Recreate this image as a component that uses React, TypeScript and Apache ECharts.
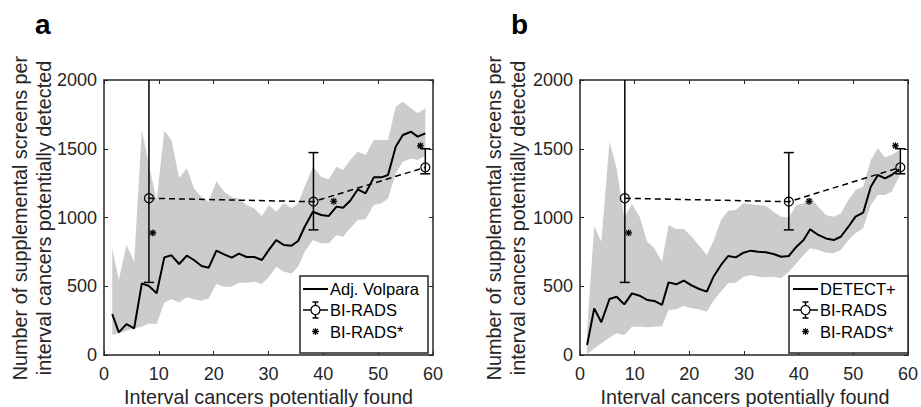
import React, { useEffect, useRef } from 'react';
import * as echarts from 'echarts';

const FONT = '"Liberation Sans", Arial, Helvetica, sans-serif';
const AX = '#262626';
const BAND = '#cccccc';

// Panel a: Adj. Volpara
const xA = [1.5, 2.7, 4.1, 5.5, 6.9, 8.2, 9.6, 11.0, 12.3, 13.7, 15.1, 16.4, 17.8, 19.1, 20.5, 21.9, 23.3, 24.6, 26.0, 27.4, 28.8, 30.1, 31.4, 32.8, 34.2, 35.4, 36.6, 38.1, 39.6, 41.0, 42.4, 43.6, 44.9, 46.3, 47.7, 49.2, 50.6, 51.8, 53.2, 54.5, 56.0, 57.2, 58.6];
const lineA = [298, 165, 225, 194, 521, 502, 449, 710, 725, 662, 722, 691, 647, 635, 759, 732, 708, 737, 713, 713, 691, 766, 836, 800, 795, 829, 933, 1042, 1018, 1011, 1079, 1071, 1122, 1205, 1176, 1292, 1292, 1309, 1515, 1600, 1624, 1588, 1612];
const upperA = [776, 545, 800, 679, 1636, 1380, 1127, 1629, 1564, 1285, 1358, 1212, 1147, 1115, 1265, 1188, 1147, 1139, 1091, 1067, 1011, 1091, 1042, 1103, 1067, 1103, 1224, 1370, 1297, 1278, 1370, 1345, 1418, 1479, 1455, 1564, 1564, 1564, 1806, 1842, 1794, 1758, 1794];
const lowerA = [145, 158, 177, 194, 206, 230, 225, 381, 405, 381, 420, 405, 395, 412, 516, 497, 497, 526, 526, 533, 516, 570, 642, 606, 593, 642, 751, 836, 812, 812, 873, 860, 921, 982, 987, 1091, 1103, 1139, 1321, 1406, 1430, 1418, 1447];

// Panel b: DETECT+
const xB = [1.3, 2.6, 3.9, 5.4, 6.7, 8.1, 9.5, 10.9, 12.3, 13.6, 15.0, 16.2, 17.6, 19.0, 20.4, 21.8, 23.2, 24.5, 25.8, 27.1, 28.5, 29.9, 31.2, 32.6, 34.0, 35.4, 36.8, 38.2, 39.6, 40.9, 42.1, 43.6, 45.0, 46.4, 47.7, 49.1, 50.4, 51.8, 53.2, 54.5, 55.8, 57.0, 58.4];
const lineB = [73, 339, 238, 407, 424, 368, 448, 431, 400, 393, 364, 528, 514, 541, 507, 480, 461, 575, 655, 720, 710, 744, 759, 751, 747, 735, 715, 720, 788, 836, 914, 873, 848, 836, 860, 933, 1006, 1035, 1224, 1309, 1285, 1309, 1350];
const upperB = [180, 938, 824, 1552, 1358, 1000, 1098, 1006, 824, 776, 679, 945, 916, 916, 861, 795, 727, 836, 982, 1050, 1055, 1103, 1097, 1091, 1084, 1042, 1006, 1000, 1091, 1103, 1151, 1079, 1018, 1006, 1030, 1127, 1200, 1224, 1418, 1503, 1437, 1455, 1491];
const lowerB = [7, 48, 85, 128, 158, 145, 206, 206, 201, 206, 210, 327, 332, 356, 340, 332, 315, 400, 461, 521, 526, 570, 582, 570, 565, 570, 558, 606, 667, 727, 776, 764, 744, 740, 764, 836, 885, 921, 1091, 1164, 1164, 1188, 1297];

// BI-RADS (mean with error bars) and BI-RADS*
const birX = [8.2, 38.2, 58.6];
const birY = [1140, 1115, 1365];
const birLow = [528, 910, 1318];
const birHigh = [2300, 1472, 1500];
const starX = [8.9, 41.9, 57.7];
const starY = [888, 1118, 1522];

const xTicks = [0, 10, 20, 30, 40, 50, 60];
const yTicks = [0, 500, 1000, 1500, 2000];

const pairs = (xs: number[], ys: number[]) => xs.map((x, i) => [x, ys[i]]);

const bandRender = (params: any, api: any) => {
  if (params.dataIndexInside !== 0) return null;
  const n = params.dataInsideLength;
  const top: number[][] = [];
  const bottom: number[][] = [];
  for (let i = 0; i < n; i++) {
    const x = api.value(0, i);
    top.push(api.coord([x, api.value(2, i)]));
    bottom.push(api.coord([x, api.value(1, i)]));
  }
  return {
    type: 'polygon',
    shape: { points: top.concat(bottom.reverse()) },
    style: { fill: BAND, stroke: 'none' },
    silent: true,
  };
};

const errorRender = (params: any, api: any) => {
  const x = api.value(0), y = api.value(1), lo = api.value(2), hi = api.value(3);
  const c = api.coord([x, y]);
  const l = api.coord([x, lo]);
  const h = api.coord([x, hi]);
  const cw = 5;
  const st = { stroke: '#000', lineWidth: 1.5, fill: 'none' };
  return {
    type: 'group',
    children: [
      { type: 'line', shape: { x1: c[0], y1: l[1], x2: c[0], y2: h[1] }, style: st },
      { type: 'line', shape: { x1: c[0] - cw, y1: l[1], x2: c[0] + cw, y2: l[1] }, style: st },
      { type: 'line', shape: { x1: c[0] - cw, y1: h[1], x2: c[0] + cw, y2: h[1] }, style: st },
      { type: 'circle', shape: { cx: c[0], cy: c[1], r: 4.5 }, style: { stroke: '#000', lineWidth: 1.2, fill: 'none' } },
    ],
  };
};

const starShape = (cx: number, cy: number, r: number) => {
  const st = { stroke: '#000', lineWidth: 1.3 };
  const d = r * 0.72;
  return [
    { type: 'line', shape: { x1: cx - r, y1: cy, x2: cx + r, y2: cy }, style: st },
    { type: 'line', shape: { x1: cx, y1: cy - r, x2: cx, y2: cy + r }, style: st },
    { type: 'line', shape: { x1: cx - d, y1: cy - d, x2: cx + d, y2: cy + d }, style: st },
    { type: 'line', shape: { x1: cx - d, y1: cy + d, x2: cx + d, y2: cy - d }, style: st },
  ];
};

const starRender = (params: any, api: any) => {
  const c = api.coord([api.value(0), api.value(1)]);
  return { type: 'group', children: starShape(c[0], c[1], 3.4) };
};

function axisPair(grid: number) {
  const common = {
    gridIndex: grid,
    type: 'value',
    splitLine: { show: false },
    axisLine: { show: true, onZero: false, lineStyle: { color: AX, width: 1.5 } },
    axisTick: { show: true, inside: true, length: 4, lineStyle: { color: AX, width: 1 } },
  };
  const fmt = (v: number) => String(v);
  const x = [
    {
      ...common, min: xTicks[0], max: xTicks[xTicks.length - 1], interval: 10, position: 'bottom',
      axisLabel: { color: AX, fontSize: 18, fontFamily: FONT, margin: 10, formatter: fmt },
    },
    { ...common, min: xTicks[0], max: xTicks[xTicks.length - 1], interval: 10, position: 'top', axisLabel: { show: false } },
  ];
  const y = [
    {
      ...common, min: yTicks[0], max: yTicks[yTicks.length - 1], interval: 500, position: 'left',
      axisLabel: { color: AX, fontSize: 18, fontFamily: FONT, margin: 7, formatter: fmt },
    },
    { ...common, min: yTicks[0], max: yTicks[yTicks.length - 1], interval: 500, position: 'right', axisLabel: { show: false } },
  ];
  return { x, y };
}

function panelSeries(grid: number, xs: number[], line: number[], up: number[], lo: number[], name: string) {
  const xi = grid * 2;
  const yi = grid * 2;
  return [
    {
      type: 'custom', xAxisIndex: xi, yAxisIndex: yi, renderItem: bandRender, silent: true,
      data: xs.map((x, i) => [x, lo[i], up[i]]), encode: { x: 0, y: [1, 2] }, z: 1,
    },
    {
      type: 'line', name, xAxisIndex: xi, yAxisIndex: yi, symbol: 'none',
      data: pairs(xs, line), lineStyle: { color: '#000', width: 2 }, z: 3,
    },
    {
      type: 'line', name: 'BI-RADS', xAxisIndex: xi, yAxisIndex: yi, symbol: 'none',
      data: pairs(birX, birY), lineStyle: { color: '#000', width: 1.5, type: [6, 4] }, z: 4,
    },
    {
      type: 'custom', xAxisIndex: xi, yAxisIndex: yi, clip: true, renderItem: errorRender,
      data: birX.map((x, i) => [x, birY[i], birLow[i], birHigh[i]]), encode: { x: 0, y: 1 }, z: 5,
    },
    {
      type: 'custom', name: 'BI-RADS*', xAxisIndex: xi, yAxisIndex: yi, renderItem: starRender,
      data: pairs(starX, starY), encode: { x: 0, y: 1 }, z: 5,
    },
  ];
}

function legendGraphics(bx: number, by: number, bw: number, bh: number, sx1: number, sx2: number, textX: number, label: string) {
  const rows = [289, 310, 331.5];
  const cx = (sx1 + sx2) / 2;
  const txt = (t: string, y: number) => ({
    type: 'text', x: textX, y, style: { text: t, font: `16.5px ${FONT}`, fill: '#000', verticalAlign: 'middle', align: 'left' },
  });
  const st = { stroke: '#000', lineWidth: 1.5 };
  return [
    { type: 'rect', shape: { x: bx, y: by, width: bw, height: bh }, style: { fill: '#fff', stroke: AX, lineWidth: 1.5 }, z: 10 },
    { type: 'line', shape: { x1: sx1, y1: rows[0], x2: sx2, y2: rows[0] }, style: { stroke: '#000', lineWidth: 2 } },
    txt(label, rows[0]),
    { type: 'line', shape: { x1: sx1, y1: rows[1], x2: cx - 4.5, y2: rows[1] }, style: st },
    { type: 'line', shape: { x1: cx + 4.5, y1: rows[1], x2: sx2, y2: rows[1] }, style: st },
    { type: 'line', shape: { x1: cx, y1: rows[1] - 8, x2: cx, y2: rows[1] + 8 }, style: st },
    { type: 'line', shape: { x1: cx - 3, y1: rows[1] - 8, x2: cx + 3, y2: rows[1] - 8 }, style: st },
    { type: 'line', shape: { x1: cx - 3, y1: rows[1] + 8, x2: cx + 3, y2: rows[1] + 8 }, style: st },
    { type: 'circle', shape: { cx, cy: rows[1], r: 4.5 }, style: { stroke: '#000', lineWidth: 1.2, fill: '#fff' }, z: 12 },
    txt('BI-RADS', rows[1]),
    ...starShape(cx, rows[2], 3.4),
    txt('BI-RADS*', rows[2]),
  ].map((e: any) => ({ ...e, z: e.z ?? 11 }));
}

function textEl(t: string, x: number, y: number, font: string, rotation = 0, align = 'center') {
  return { type: 'text', x, y, rotation, z: 20, style: { text: t, font, fill: AX, align, verticalAlign: 'middle' } };
}

export default function App() {
  const ref = useRef<HTMLDivElement>(null);
  useEffect(() => {
    if (!ref.current) return;
    const chart = echarts.init(ref.current, undefined, { renderer: 'svg' });
    const a = axisPair(0);
    const b = axisPair(1);
    const titleFont = `19.8px ${FONT}`;
    chart.setOption({
      animation: false,
      backgroundColor: '#fff',
      grid: [
        { left: 104, top: 80, width: 329, height: 275 },
        { left: 580, top: 80, width: 330, height: 275 },
      ],
      xAxis: [...a.x, ...b.x],
      yAxis: [...a.y, ...b.y],
      series: [
        ...panelSeries(0, xA, lineA, upperA, lowerA, 'Adj. Volpara'),
        ...panelSeries(1, xB, lineB, upperB, lowerB, 'DETECT+'),
      ],
      graphic: {
        elements: [
          { type: 'text', x: 35, y: 24, z: 20, style: { text: 'a', font: `bold 28px ${FONT}`, fill: '#000', verticalAlign: 'middle' } },
          { type: 'text', x: 511, y: 24, z: 20, style: { text: 'b', font: `bold 28px ${FONT}`, fill: '#000', verticalAlign: 'middle' } },
          textEl('Number of supplemental screens per', 20, 218, titleFont, Math.PI / 2),
          textEl('interval cancers potentially detected', 44, 218, titleFont, Math.PI / 2),
          textEl('Number of supplemental screens per', 494, 218, titleFont, Math.PI / 2),
          textEl('interval cancers potentially detected', 518, 218, titleFont, Math.PI / 2),
          textEl('Interval cancers potentially found', 268.5, 397, titleFont),
          textEl('Interval cancers potentially found', 745, 397, titleFont),
          ...legendGraphics(300, 276, 128, 77, 303, 328, 330, 'Adj. Volpara'),
          ...legendGraphics(789, 276, 119, 77, 793, 818, 820, 'DETECT+'),
        ],
      },
    });
    return () => chart.dispose();
  }, []);
  return <div ref={ref} style={{ width: 921, height: 407, position: 'absolute', left: 0, top: 0 }} />;
}
